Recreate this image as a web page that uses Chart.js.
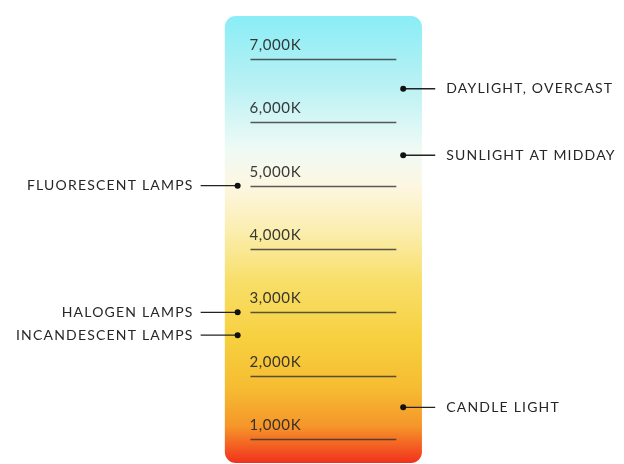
<!DOCTYPE html>
<html>
<head>
<meta charset="utf-8">
<script src="https://cdn.jsdelivr.net/npm/chart.js@4/dist/chart.umd.min.js"></script>
<style>
  html, body { margin: 0; padding: 0; background: #ffffff; }
  #wrap { width: 624px; height: 464px; position: relative; }
</style>
</head>
<body>
<div id="wrap"><canvas id="c" width="624" height="464"></canvas></div>
<script>
// ---- data ----
const tickValues = [1000, 2000, 3000, 4000, 5000, 6000, 7000];
const tickLabels = ['1,000K', '2,000K', '3,000K', '4,000K', '5,000K', '6,000K', '7,000K'];
const sourceNames = ['DAYLIGHT, OVERCAST', 'SUNLIGHT AT MIDDAY', 'FLUORESCENT LAMPS', 'HALOGEN LAMPS', 'INCANDESCENT LAMPS', 'CANDLE LIGHT'];
const sourceKelvin = [6530, 5480, 5000, 3000, 2640, 1500];
const sourceSide = ['right', 'right', 'left', 'left', 'left', 'right'];

// ---- style (not data) ----
const SIDE_X = { right: 0.81, left: -0.87 };
const BAR = { x0: -1, x1: 1, top: 7680, bottom: 620, radius: 11 };
const GRADIENT = [
  [7680, '#8aedf6'],
  [6600, '#b8f1f4'],
  [5600, '#eefaf6'],
  [5000, '#fdf7e2'],
  [4300, '#fbeeb0'],
  [3500, '#f8df6a'],
  [2600, '#f7d040'],
  [1800, '#f6bc32'],
  [1200, '#f5962a'],
  [620, '#f2301c']
];
const FONT = 'Lato, "Open Sans", sans-serif';

const colorTempPlugin = {
  id: 'colorTemp',
  beforeDatasetsDraw(chart) {
    const ctx = chart.ctx;
    const xs = chart.scales.x, ys = chart.scales.y;
    // gradient bar
    const bx0 = xs.getPixelForValue(BAR.x0), bx1 = xs.getPixelForValue(BAR.x1);
    const by0 = ys.getPixelForValue(BAR.top), by1 = ys.getPixelForValue(BAR.bottom);
    const g = ctx.createLinearGradient(0, by0, 0, by1);
    GRADIENT.forEach(([k, c]) => {
      const p = (ys.getPixelForValue(k) - by0) / (by1 - by0);
      g.addColorStop(Math.min(1, Math.max(0, p)), c);
    });
    ctx.save();
    ctx.fillStyle = g;
    ctx.beginPath();
    ctx.roundRect(bx0, by0, bx1 - bx0, by1 - by0, BAR.radius);
    ctx.fill();

    // tick lines + labels
    const lx0 = xs.getPixelForValue(-0.74), lx1 = xs.getPixelForValue(0.74);
    tickValues.forEach((v, i) => {
      const y = Math.round(ys.getPixelForValue(v)) + 0.5;
      ctx.strokeStyle = 'rgba(45,45,45,0.78)';
      ctx.lineWidth = 1.4;
      ctx.beginPath();
      ctx.moveTo(lx0, y);
      ctx.lineTo(lx1, y);
      ctx.stroke();
      ctx.fillStyle = 'rgba(40,40,40,0.92)';
      ctx.font = '15px ' + FONT;
      ctx.letterSpacing = '0.6px';
      ctx.textAlign = 'left';
      ctx.textBaseline = 'middle';
      ctx.fillText(tickLabels[i], lx0 - 1, y - 14);
    });

    // leader lines + labels
    ctx.font = '14px ' + FONT;
    ctx.letterSpacing = '1.2px';
    ctx.textBaseline = 'middle';
    sourceNames.forEach((name, i) => {
      const px = xs.getPixelForValue(SIDE_X[sourceSide[i]]);
      const py = ys.getPixelForValue(sourceKelvin[i]);
      ctx.strokeStyle = '#222';
      ctx.lineWidth = 1.3;
      ctx.beginPath();
      if (sourceSide[i] === 'right') {
        ctx.moveTo(px, py); ctx.lineTo(px + 32, py);
      } else {
        ctx.moveTo(px - 37, py); ctx.lineTo(px, py);
      }
      ctx.stroke();
      ctx.fillStyle = '#262626';
      if (sourceSide[i] === 'right') {
        ctx.textAlign = 'left';
        ctx.fillText(name, px + 43, py);
      } else {
        ctx.textAlign = 'right';
        ctx.fillText(name, px - 44, py);
      }
    });
    ctx.restore();
  }
};

new Chart(document.getElementById('c'), {
  type: 'scatter',
  data: {
    datasets: [{
      data: sourceKelvin.map((k, i) => ({ x: SIDE_X[sourceSide[i]], y: k })),
      pointRadius: 3,
      pointHoverRadius: 3,
      pointBackgroundColor: '#111',
      pointBorderWidth: 0,
      clip: false
    }]
  },
  options: {
    responsive: false,
    animation: false,
    events: [],
    layout: { padding: { left: 0, right: 0, top: 59, bottom: 25 } },
    plugins: { legend: { display: false }, tooltip: { enabled: false } },
    scales: {
      x: { type: 'linear', display: false, min: -3.251, max: 3.020 },
      y: { type: 'linear', display: false, min: 1000, max: 7000 }
    }
  },
  plugins: [colorTempPlugin]
});
</script>
</body>
</html>
